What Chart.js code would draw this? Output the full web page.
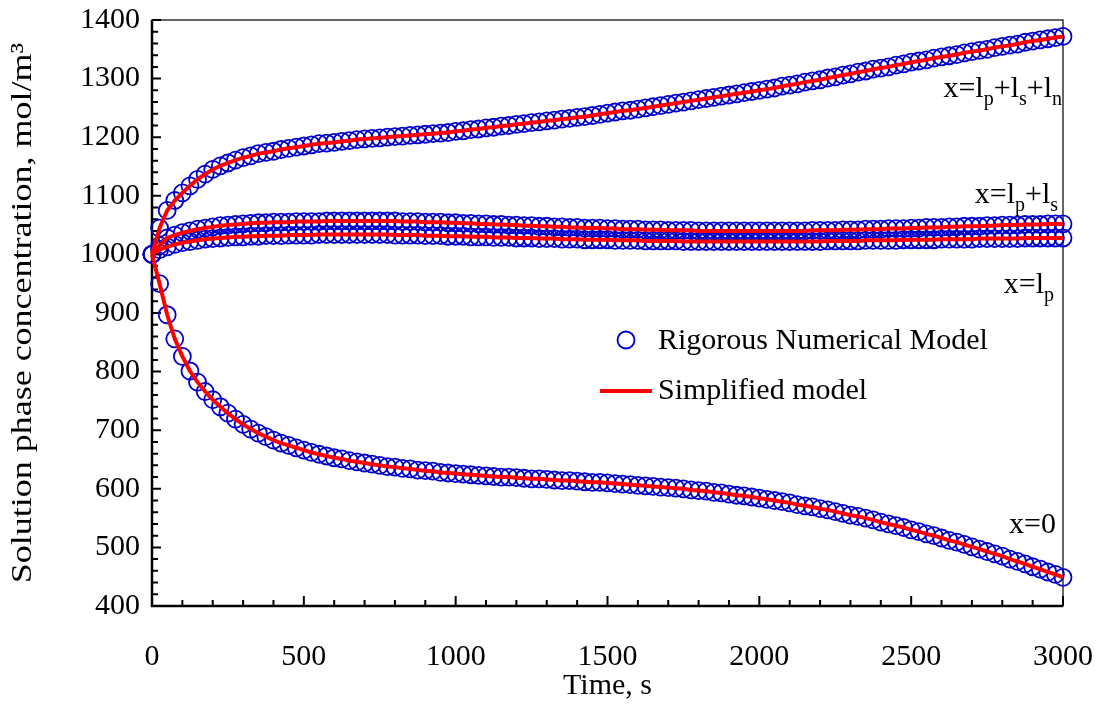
<!DOCTYPE html>
<html>
<head>
<meta charset="utf-8">
<script src="https://cdn.jsdelivr.net/npm/chart.js@4.4.0/dist/chart.umd.min.js"></script>
<style>
  html, body { margin: 0; padding: 0; background: #fff; }
  canvas { display: block; }
</style>
</head>
<body>
<canvas id="chartCanvas" width="1104" height="704"></canvas>
<script>
// time grid of the model output, s (one value every 25 s)
const timeStep = 25;
const time = Array.from({ length: 121 }, (_, i) => i * timeStep);

// solution phase concentration, mol/m3
const concSepAnode = [ // x = lp+ls+ln
  1000, 1045, 1075, 1092, 1105, 1117, 1128, 1137, 1145, 1151,
  1156, 1161, 1165, 1168, 1172, 1174, 1176, 1179, 1181, 1183,
  1185, 1187, 1189, 1190, 1191, 1193, 1194, 1196, 1197, 1198,
  1199, 1200, 1201, 1202, 1203, 1204, 1205, 1206, 1207, 1208,
  1210, 1211, 1213, 1214, 1216, 1217, 1219, 1220, 1222, 1223,
  1225, 1226, 1228, 1229, 1231, 1232, 1234, 1235, 1237, 1239,
  1241, 1243, 1245, 1246, 1248, 1250, 1252, 1254, 1256, 1258,
  1260, 1262, 1264, 1266, 1268, 1270, 1272, 1274, 1276, 1278,
  1280, 1282, 1284, 1287, 1289, 1291, 1294, 1296, 1298, 1301,
  1303, 1306, 1308, 1311, 1313, 1316, 1318, 1320, 1323, 1325,
  1328, 1330, 1332, 1335, 1337, 1339, 1341, 1344, 1346, 1348,
  1350, 1353, 1355, 1357, 1359, 1362, 1364, 1366, 1368, 1370,
  1372
];
const concLpLs = [ // x = lp+ls
  1000, 1015, 1028, 1033, 1037, 1040, 1043, 1045, 1047, 1049,
  1050, 1051, 1052, 1053, 1054, 1054, 1055, 1055, 1055, 1056,
  1056, 1056, 1056, 1057, 1057, 1057, 1057, 1057, 1057, 1057,
  1057, 1057, 1057, 1056, 1056, 1056, 1055, 1055, 1055, 1054,
  1054, 1053, 1053, 1052, 1052, 1051, 1051, 1050, 1050, 1049,
  1049, 1048, 1048, 1047, 1047, 1046, 1046, 1045, 1045, 1045,
  1044, 1044, 1043, 1043, 1043, 1042, 1042, 1042, 1041, 1041,
  1041, 1041, 1040, 1040, 1040, 1040, 1040, 1040, 1040, 1040,
  1040, 1040, 1040, 1040, 1040, 1040, 1040, 1041, 1041, 1041,
  1041, 1042, 1042, 1042, 1043, 1043, 1043, 1044, 1044, 1044,
  1045, 1045, 1046, 1046, 1046, 1047, 1047, 1048, 1048, 1048,
  1049, 1049, 1050, 1050, 1050, 1051, 1051, 1051, 1052, 1052,
  1052
];
const concLp = [ // x = lp
  1000, 1008, 1013, 1017, 1020, 1022, 1024, 1026, 1027, 1028,
  1029, 1030, 1030, 1031, 1031, 1032, 1032, 1032, 1033, 1033,
  1033, 1033, 1034, 1034, 1034, 1034, 1034, 1034, 1034, 1034,
  1034, 1034, 1033, 1033, 1033, 1033, 1032, 1032, 1032, 1031,
  1031, 1031, 1030, 1030, 1030, 1029, 1029, 1029, 1028, 1028,
  1028, 1027, 1027, 1027, 1026, 1026, 1026, 1025, 1025, 1025,
  1025, 1024, 1024, 1024, 1024, 1023, 1023, 1023, 1023, 1023,
  1022, 1022, 1022, 1022, 1022, 1022, 1022, 1022, 1022, 1022,
  1022, 1022, 1022, 1022, 1022, 1022, 1022, 1022, 1022, 1023,
  1023, 1023, 1023, 1023, 1024, 1024, 1024, 1024, 1024, 1025,
  1025, 1025, 1025, 1025, 1026, 1026, 1026, 1026, 1026, 1027,
  1027, 1027, 1027, 1027, 1027, 1028, 1028, 1028, 1028, 1028,
  1028
];
const concX0 = [ // x = 0
  1000, 950, 897, 856, 826, 801, 782, 766, 752, 740,
  729, 719, 710, 702, 695, 689, 683, 678, 674, 670,
  666, 662, 659, 656, 653, 651, 648, 646, 644, 642,
  640, 638, 637, 635, 634, 632, 631, 630, 628, 627,
  626, 625, 624, 623, 622, 621, 620, 620, 619, 618,
  617, 617, 616, 615, 614, 614, 613, 612, 611, 611,
  610, 609, 608, 607, 606, 605, 604, 603, 602, 601,
  600, 598, 597, 596, 594, 593, 591, 589, 588, 586,
  584, 582, 580, 578, 576, 573, 571, 569, 566, 564,
  561, 558, 555, 553, 550, 547, 543, 540, 537, 534,
  530, 527, 523, 520, 516, 512, 509, 505, 501, 497,
  493, 489, 485, 480, 476, 472, 467, 463, 458, 454,
  449
];

const curves = [concSepAnode, concLpLs, concLp, concX0];
const xMinorStep = 100, xMajorStep = 500;
const yMinorStep = 20, yMajorStep = 100;

const FONT = "'Liberation Serif', 'Times New Roman', serif";
const BLUE = '#0000cc';
const RED = '#ff0000';

const toPoints = vals => time.map((t, i) => ({ x: t, y: vals[i] }));

// axis frame with inward tick marks
const framePlugin = {
  id: 'frame',
  beforeDatasetsDraw(chart) {
    const { ctx, chartArea: a, scales: { x, y } } = chart;
    ctx.save();
    ctx.strokeStyle = '#000';
    ctx.lineWidth = 1.2;
    ctx.strokeRect(a.left, a.top, a.right - a.left, a.bottom - a.top);
    ctx.lineWidth = 2.5;
    ctx.beginPath();
    ctx.moveTo(a.left, a.top);
    ctx.lineTo(a.left, a.bottom);
    ctx.lineTo(a.right, a.bottom);
    ctx.stroke();
    ctx.lineWidth = 2;
    ctx.beginPath();
    for (let v = y.min; v <= y.max; v += yMinorStep) {
      const py = y.getPixelForValue(v);
      const len = v % yMajorStep === 0 ? 9 : 6;
      ctx.moveTo(a.left, py);
      ctx.lineTo(a.left + len, py);
    }
    for (let t = x.min; t <= x.max; t += xMinorStep) {
      const px = x.getPixelForValue(t);
      const len = t % xMajorStep === 0 ? 10 : 6;
      ctx.moveTo(px, a.bottom);
      ctx.lineTo(px, a.bottom - len);
    }
    ctx.stroke();
    ctx.restore();
  }
};

// text with subscripts, right aligned
function drawSubText(ctx, parts, right, baseline) {
  const big = `30px ${FONT}`, small = `20px ${FONT}`;
  let total = 0;
  parts.forEach(([s, sub]) => { ctx.font = sub ? small : big; total += ctx.measureText(s).width; });
  let px = right - total;
  parts.forEach(([s, sub]) => {
    ctx.font = sub ? small : big;
    ctx.fillText(s, px, sub ? baseline + 8 : baseline);
    px += ctx.measureText(s).width;
  });
}

const labelPlugin = {
  id: 'labels',
  afterDraw(chart) {
    const { ctx, chartArea: a } = chart;
    ctx.save();
    ctx.fillStyle = '#000';
    ctx.textBaseline = 'alphabetic';
    ctx.textAlign = 'left';
    drawSubText(ctx, [['x=l'], ['p', 1], ['+l'], ['s', 1], ['+l'], ['n', 1]], a.right - 1, 97);
    drawSubText(ctx, [['x=l'], ['p', 1], ['+l'], ['s', 1]], a.right - 5, 203);
    drawSubText(ctx, [['x=l'], ['p', 1]], a.right - 9, 293);
    drawSubText(ctx, [['x=0']], a.right - 7, 533);

    // legend
    ctx.font = `30px ${FONT}`;
    ctx.textBaseline = 'middle';
    ctx.strokeStyle = BLUE;
    ctx.lineWidth = 1.8;
    ctx.beginPath();
    ctx.arc(626, 340, 8.5, 0, Math.PI * 2);
    ctx.stroke();
    ctx.fillText('Rigorous Numerical Model', 658, 341);
    ctx.strokeStyle = RED;
    ctx.lineWidth = 4;
    ctx.beginPath();
    ctx.moveTo(600, 391);
    ctx.lineTo(652, 391);
    ctx.stroke();
    ctx.fillText('Simplified model', 658, 391);

    // y axis title (stretched along its length like the original)
    ctx.translate(23, (a.top + a.bottom) / 2);
    ctx.rotate(-Math.PI / 2);
    ctx.scale(1.2, 1);
    ctx.textAlign = 'center';
    ctx.fillText('Solution phase concentration, mol/m³', 0, 0);
    ctx.restore();
  }
};

const datasets = [
  ...curves.map(vals => ({
    label: 'Simplified model',
    data: toPoints(vals),
    showLine: true,
    borderColor: RED,
    borderWidth: 4,
    pointRadius: 0,
    tension: 0,
    order: 0,
    clip: false
  })),
  ...curves.map(vals => ({
    label: 'Rigorous Numerical Model',
    data: toPoints(vals),
    showLine: false,
    pointStyle: 'circle',
    pointRadius: 8.5,
    borderColor: BLUE,
    borderWidth: 1.8,
    backgroundColor: 'rgba(0,0,0,0)',
    order: 1,
    clip: false
  }))
];

new Chart(document.getElementById('chartCanvas'), {
  type: 'scatter',
  data: { datasets },
  plugins: [framePlugin, labelPlugin],
  options: {
    responsive: false,
    animation: false,
    layout: { padding: { left: 0, top: 20, right: 41, bottom: 0 } },
    plugins: { legend: { display: false }, tooltip: { enabled: false } },
    scales: {
      x: {
        type: 'linear',
        min: 0,
        max: 3000,
        afterFit: s => { s.height = 98; s.paddingLeft = 0; s.paddingRight = 0; },
        grid: { display: false, drawTicks: false },
        border: { display: false },
        ticks: {
          stepSize: xMajorStep,
          padding: 33,
          color: '#000',
          font: { family: FONT, size: 30 },
          callback: v => String(v)
        },
        title: {
          display: true,
          text: 'Time, s',
          color: '#000',
          font: { family: FONT, size: 30, lineHeight: 1.2 },
          padding: { top: 0, bottom: 0 }
        }
      },
      y: {
        type: 'linear',
        min: 400,
        max: 1400,
        afterFit: s => { s.width = 152; s.paddingTop = 0; s.paddingBottom = 0; },
        grid: { display: false, drawTicks: false },
        border: { display: false },
        ticks: {
          stepSize: yMajorStep,
          padding: 12,
          color: '#000',
          font: { family: FONT, size: 30 },
          callback: v => String(v)
        },
        title: { display: false }
      }
    }
  }
});
</script>
</body>
</html>
